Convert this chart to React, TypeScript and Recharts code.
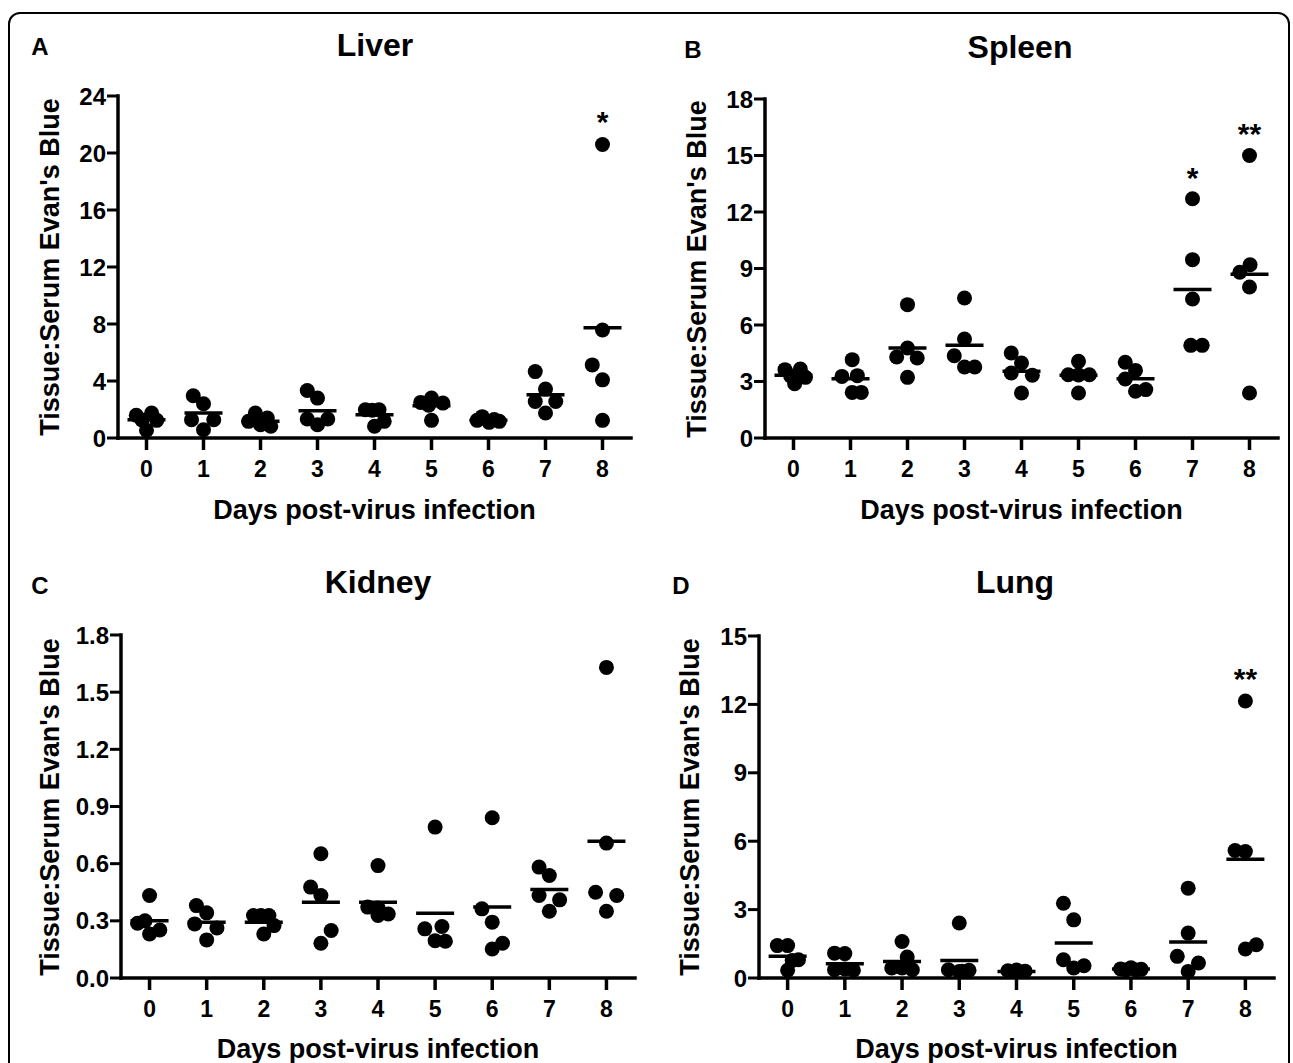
import React from 'react';
import { ScatterChart, Scatter, XAxis, YAxis } from 'recharts';

const days = [0, 1, 2, 3, 4, 5, 6, 7, 8];
const yLabel = "Tissue:Serum Evan's Blue";
const xLabel = 'Days post-virus infection';

// ---------- Liver ----------
const liverValues = [
  [1.6, 1.75, 1.24, 0.54, 1.27],
  [2.96, 2.4, 1.28, 1.28, 0.58],
  [1.75, 1.4, 1.17, 0.93, 0.82],
  [3.33, 2.8, 1.33, 1.33, 0.93],
  [1.98, 1.98, 1.95, 1.17, 0.82],
  [2.8, 2.5, 2.45, 2.3, 1.24],
  [1.5, 1.24, 1.1, 1.17, 1.3],
  [4.66, 3.43, 2.56, 2.56, 1.75],
  [20.6, 7.58, 5.13, 4.08, 1.24],
];
const liverJitter = [
  [-0.18, 0.09, 0.18, 0, -0.08],
  [-0.18, 0, -0.21, 0.18, 0],
  [-0.09, 0.12, -0.21, 0, 0.18],
  [-0.18, 0, -0.18, 0.18, 0],
  [-0.16, 0.08, -0.04, 0.17, 0],
  [0, -0.19, 0.2, -0.05, 0],
  [-0.11, -0.2, 0.01, 0.19, 0.1],
  [-0.18, 0, -0.18, 0.18, 0],
  [0, 0, -0.18, 0, 0],
];
const liverMeans = [1.28, 1.75, 1.17, 1.91, 1.63, 2.26, 1.24, 3.03, 7.74];
const liverTicks = [0, 4, 8, 12, 16, 20, 24];
const liverStars = [{ day: 8, y: 22.7, text: '*' }];

// ---------- Spleen ----------
const spleenValues = [
  [3.63, 3.66, 3.22, 2.88, 3.3],
  [4.16, 3.27, 3.31, 2.42, 2.42],
  [7.08, 4.78, 4.3, 4.25, 3.22],
  [7.43, 5.26, 4.37, 3.77, 3.77],
  [4.51, 3.98, 3.45, 3.33, 2.39],
  [4.07, 3.36, 3.36, 3.35, 2.39],
  [4.02, 3.59, 3.13, 2.57, 2.48],
  [12.7, 9.47, 7.38, 4.92, 4.92],
  [15.0, 9.2, 8.8, 8.02, 2.39],
];
const spleenJitter = [
  [-0.15, 0.12, 0.21, 0.02, -0.05],
  [0.03, -0.15, 0.12, 0.03, 0.19],
  [0, 0, -0.19, 0.17, 0],
  [0, 0, -0.18, 0, 0.18],
  [-0.18, 0, -0.18, 0.19, 0],
  [0, -0.18, 0.19, 0, 0],
  [-0.18, 0, -0.18, 0.18, 0],
  [0, 0, 0, -0.03, 0.17],
  [0, 0.01, -0.17, 0, 0],
];
const spleenMeans = [3.33, 3.15, 4.78, 4.92, 3.54, 3.33, 3.15, 7.88, 8.7];
const spleenTicks = [0, 3, 6, 9, 12, 15, 18];
const spleenStars = [
  { day: 7, y: 14.2, text: '*' },
  { day: 8, y: 16.5, text: '**' },
];

// ---------- Kidney ----------
const kidneyValues = [
  [0.433, 0.287, 0.252, 0.231, 0.3],
  [0.38, 0.342, 0.284, 0.263, 0.2],
  [0.328, 0.328, 0.328, 0.275, 0.231],
  [0.652, 0.477, 0.433, 0.249, 0.182],
  [0.59, 0.372, 0.368, 0.336, 0.328],
  [0.792, 0.258, 0.27, 0.196, 0.193],
  [0.841, 0.363, 0.293, 0.182, 0.152],
  [0.582, 0.538, 0.433, 0.41, 0.35],
  [1.63, 0.708, 0.45, 0.433, 0.35],
];
const kidneyJitter = [
  [0, -0.21, 0.18, 0, -0.08],
  [-0.18, 0, -0.21, 0.18, 0],
  [-0.18, 0.09, -0.05, 0.18, 0],
  [0, -0.18, 0, 0.18, 0],
  [0, -0.18, 0, 0.18, 0],
  [0, -0.18, 0.12, 0, 0.18],
  [0, -0.18, 0, 0.18, 0],
  [-0.18, 0, -0.18, 0.18, 0],
  [0, 0, -0.19, 0.18, 0],
];
const kidneyMeans = [0.3, 0.293, 0.293, 0.398, 0.398, 0.34, 0.372, 0.464, 0.717];
const kidneyTicks = [0, 0.3, 0.6, 0.9, 1.2, 1.5, 1.8];
const kidneyStars: { day: number; y: number; text: string }[] = [];

// ---------- Lung ----------
const lungValues = [
  [1.42, 1.42, 0.8, 0.34, 0.77],
  [1.09, 1.07, 0.36, 0.34, 0.4],
  [1.6, 0.92, 0.44, 0.36, 0.44],
  [2.41, 0.36, 0.34, 0.29, 0.3],
  [0.32, 0.35, 0.3, 0.25, 0.25],
  [3.28, 2.55, 0.8, 0.54, 0.44],
  [0.4, 0.45, 0.38, 0.35, 0.35],
  [3.94, 1.97, 0.95, 0.66, 0.29],
  [12.15, 5.59, 5.55, 1.27, 1.46],
];
const lungJitter = [
  [-0.18, 0, 0.19, 0, 0.08],
  [-0.18, 0, -0.18, 0.15, 0],
  [0, 0.09, -0.18, 0.18, 0],
  [0, -0.19, 0.17, 0, 0.05],
  [-0.15, 0, 0.15, -0.06, 0.09],
  [-0.18, 0, -0.18, 0.18, 0],
  [-0.18, 0, 0.18, -0.09, 0.09],
  [0, 0, -0.19, 0.18, 0],
  [0, -0.18, 0, 0, 0.19],
];
const lungMeans = [0.95, 0.63, 0.72, 0.77, 0.29, 1.53, 0.39, 1.58, 5.21];
const lungTicks = [0, 3, 6, 9, 12, 15];
const lungStars = [{ day: 8, y: 13.4, text: '**' }];

const FONT = '"Liberation Sans", Arial, Helvetica, sans-serif';

type Star = { day: number; y: number; text: string };

type PanelProps = {
  letter: string;
  title: string;
  plotX: number;
  plotY: number;
  plotW: number;
  plotH: number;
  values: number[][];
  jitter: number[][];
  means: number[];
  ticks: number[];
  stars: Star[];
  decimals: number;
  letterPos: [number, number];
  titlePos: [number, number];
  yLabelX: number;
  xLabelY: number;
};

const AXIS_W = 80;
const X_H = 60;
const TOP = 20;
const RIGHT = 20;

const DotShape = (props: any) => {
  const { cx, cy } = props;
  if (cx == null || cy == null) return <g />;
  return <circle cx={cx} cy={cy} r={7.5} fill="#000" />;
};

const MeanShape = (props: any) => {
  const { cx, cy } = props;
  if (cx == null || cy == null) return <g />;
  return <line x1={cx - 19} x2={cx + 19} y1={cy} y2={cy} stroke="#000" strokeWidth={3.5} />;
};

const StarShape = (props: any) => {
  const { cx, cy, payload } = props;
  if (cx == null || cy == null) return <g />;
  return (
    <text
      x={cx}
      y={cy + 17}
      textAnchor="middle"
      fontFamily={FONT}
      fontWeight="bold"
      fontSize={30}
      fill="#000"
    >
      {payload.text}
    </text>
  );
};

const makeYTick = (decimals: number) => (props: any) => {
  const { x, y, payload } = props;
  return (
    <text
      x={x}
      y={y}
      dy="0.36em"
      textAnchor="end"
      fontFamily={FONT}
      fontWeight="bold"
      fontSize={24}
      fill="#000"
    >
      {Number(payload.value).toFixed(decimals)}
    </text>
  );
};

const XTick = (props: any) => {
  const { x, y, payload } = props;
  return (
    <text
      x={x}
      y={y}
      dy="0.72em"
      textAnchor="middle"
      fontFamily={FONT}
      fontWeight="bold"
      fontSize={23}
      fill="#000"
    >
      {payload.value}
    </text>
  );
};

function Panel(p: PanelProps) {
  const pts: { x: number; y: number }[] = [];
  p.values.forEach((row, i) => {
    row.forEach((v, j) => {
      pts.push({ x: days[i] + p.jitter[i][j], y: v });
    });
  });
  const meanPts = p.means.map((m, i) => ({ x: days[i], y: m }));
  const starPts = p.stars.map((s) => ({ x: s.day, y: s.y, text: s.text }));
  const yMax = p.ticks[p.ticks.length - 1];
  const width = p.plotW + AXIS_W + RIGHT;
  const height = p.plotH + TOP + X_H;
  const YTick = makeYTick(p.decimals);

  return (
    <>
      <div
        style={{
          position: 'absolute',
          left: p.letterPos[0],
          top: p.letterPos[1],
          transform: 'translate(-50%, -50%)',
          fontFamily: FONT,
          fontWeight: 'bold',
          fontSize: 24,
          lineHeight: 1,
        }}
      >
        {p.letter}
      </div>
      <div
        style={{
          position: 'absolute',
          left: p.titlePos[0],
          top: p.titlePos[1],
          transform: 'translate(-50%, -50%)',
          fontFamily: FONT,
          fontWeight: 'bold',
          fontSize: 32,
          lineHeight: 1,
          whiteSpace: 'nowrap',
        }}
      >
        {p.title}
      </div>
      <div
        style={{
          position: 'absolute',
          left: p.yLabelX,
          top: p.plotY + p.plotH / 2,
          transform: 'translate(-50%, -50%) rotate(-90deg)',
          fontFamily: FONT,
          fontWeight: 'bold',
          fontSize: 27,
          lineHeight: 1,
          whiteSpace: 'nowrap',
        }}
      >
        {yLabel}
      </div>
      <div
        style={{
          position: 'absolute',
          left: p.plotX + p.plotW / 2,
          top: p.xLabelY,
          transform: 'translate(-50%, -50%)',
          fontFamily: FONT,
          fontWeight: 'bold',
          fontSize: 27,
          lineHeight: 1,
          whiteSpace: 'nowrap',
        }}
      >
        {xLabel}
      </div>
      <div style={{ position: 'absolute', left: p.plotX - AXIS_W, top: p.plotY - TOP }}>
        <ScatterChart width={width} height={height} margin={{ top: TOP, right: RIGHT, bottom: 0, left: 0 }}>
          <XAxis
            type="number"
            dataKey="x"
            domain={[-0.5, 8.5]}
            ticks={days}
            interval={0}
            allowDataOverflow
            height={X_H}
            axisLine={{ stroke: '#000', strokeWidth: 3.5, strokeLinecap: 'square' }}
            tickLine={{ stroke: '#000', strokeWidth: 3.5 }}
            tickSize={12}
            tickMargin={10}
            tick={<XTick />}
          />
          <YAxis
            type="number"
            dataKey="y"
            domain={[0, yMax]}
            ticks={p.ticks}
            interval={0}
            allowDataOverflow
            width={AXIS_W}
            axisLine={{ stroke: '#000', strokeWidth: 3.5, strokeLinecap: 'square' }}
            tickLine={{ stroke: '#000', strokeWidth: 3 }}
            tickSize={11}
            tickMargin={1}
            tick={<YTick />}
          />
          <Scatter data={pts} shape={DotShape} isAnimationActive={false} />
          <Scatter data={meanPts} shape={MeanShape} isAnimationActive={false} />
          <Scatter data={starPts} shape={StarShape} isAnimationActive={false} />
        </ScatterChart>
      </div>
    </>
  );
}

export default function App() {
  return (
    <div
      style={{
        position: 'absolute',
        left: 0,
        top: 0,
        width: 1293,
        height: 1063,
        background: '#fff',
        overflow: 'hidden',
        fontFamily: FONT,
        color: '#000',
      }}
    >
      <div
        style={{
          position: 'absolute',
          left: 8,
          top: 12,
          width: 1282,
          height: 1080,
          border: '2px solid #000',
          borderRadius: 12,
          boxSizing: 'border-box',
        }}
      />
      <Panel
        letter="A"
        title="Liver"
        plotX={118}
        plotY={96}
        plotW={513}
        plotH={342}
        values={liverValues}
        jitter={liverJitter}
        means={liverMeans}
        ticks={liverTicks}
        stars={liverStars}
        decimals={0}
        letterPos={[40, 47]}
        titlePos={[375, 45]}
        yLabelX={50}
        xLabelY={510}
      />
      <Panel
        letter="B"
        title="Spleen"
        plotX={765}
        plotY={99}
        plotW={513}
        plotH={339}
        values={spleenValues}
        jitter={spleenJitter}
        means={spleenMeans}
        ticks={spleenTicks}
        stars={spleenStars}
        decimals={0}
        letterPos={[693, 50]}
        titlePos={[1020, 47]}
        yLabelX={697}
        xLabelY={510}
      />
      <Panel
        letter="C"
        title="Kidney"
        plotX={121}
        plotY={635}
        plotW={514}
        plotH={343}
        values={kidneyValues}
        jitter={kidneyJitter}
        means={kidneyMeans}
        ticks={kidneyTicks}
        stars={kidneyStars}
        decimals={1}
        letterPos={[40, 586]}
        titlePos={[378, 582]}
        yLabelX={50}
        xLabelY={1049}
      />
      <Panel
        letter="D"
        title="Lung"
        plotX={759}
        plotY={636}
        plotW={515}
        plotH={342}
        values={lungValues}
        jitter={lungJitter}
        means={lungMeans}
        ticks={lungTicks}
        stars={lungStars}
        decimals={0}
        letterPos={[681, 586]}
        titlePos={[1015, 582]}
        yLabelX={690}
        xLabelY={1049}
      />
    </div>
  );
}
